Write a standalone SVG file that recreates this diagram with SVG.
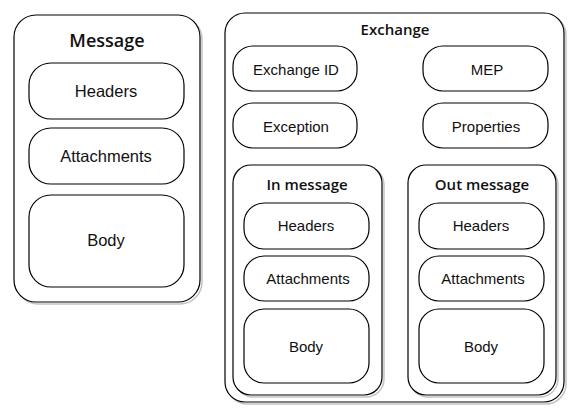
<svg xmlns="http://www.w3.org/2000/svg" width="578" height="419" viewBox="0 0 578 419">
<style>
.box{fill:#fff;stroke:#000;stroke-width:1.2}
.sh{fill:none;stroke:#c4c4c4;stroke-width:1.5}
.lbl{font-family:"Liberation Sans",Arial,sans-serif;font-size:15px;fill:#111;text-anchor:middle;dominant-baseline:central}
.big{font-size:16.5px}
.ttl{font-family:"Open Sans","Noto Sans",sans-serif;font-weight:600;font-size:15px;fill:#111;text-anchor:middle;dominant-baseline:central}
</style>
<rect width="578" height="419" fill="#fff"/>
<g id="message">
<rect class="sh" x="16" y="17" width="186" height="287" rx="22"/>
<rect class="box" x="14" y="15" width="186" height="287" rx="22"/>
<text class="ttl" x="107" y="40" style="font-size:18px">Message</text>
</g>
<g id="msg-headers"><rect class="box" x="29" y="63" width="155" height="56" rx="22"/><text class="lbl big" x="106" y="91">Headers</text></g>
<g id="msg-attachments"><rect class="box" x="29" y="128" width="155" height="56" rx="22"/><text class="lbl big" x="106" y="156">Attachments</text></g>
<g id="msg-body"><rect class="box" x="29" y="195" width="155" height="92" rx="22"/><text class="lbl big" x="106" y="240">Body</text></g>

<g id="exchange">
<rect class="sh" x="227" y="15" width="339" height="389" rx="20"/>
<rect class="box" x="225" y="13" width="339" height="389" rx="20"/>
<text class="ttl" x="395" y="29">Exchange</text>
</g>
<g id="exchange-id"><rect class="box" x="233" y="46" width="124" height="45" rx="20"/><text class="lbl" x="296" y="69">Exchange ID</text></g>
<g id="mep"><rect class="box" x="423" y="46" width="125" height="45" rx="20"/><text class="lbl" x="487" y="69">MEP</text></g>
<g id="exception"><rect class="box" x="233" y="103" width="124" height="45" rx="20"/><text class="lbl" x="296" y="126">Exception</text></g>
<g id="properties"><rect class="box" x="423" y="103" width="125" height="45" rx="20"/><text class="lbl" x="486" y="126">Properties</text></g>

<g id="in-message">
<rect class="sh" x="235" y="167" width="149" height="230" rx="18"/>
<rect class="box" x="233" y="165" width="149" height="230" rx="18"/>
<text class="ttl" x="307" y="184">In message</text>
</g>
<g id="in-headers"><rect class="box" x="244" y="203" width="125" height="46" rx="20"/><text class="lbl" x="306" y="225">Headers</text></g>
<g id="in-attachments"><rect class="box" x="244" y="256" width="125" height="45" rx="20"/><text class="lbl" x="308" y="278">Attachments</text></g>
<g id="in-body"><rect class="box" x="244" y="309" width="125" height="74" rx="20"/><text class="lbl" x="306" y="346">Body</text></g>

<g id="out-message">
<rect class="sh" x="410" y="167" width="148" height="230" rx="18"/>
<rect class="box" x="408" y="165" width="148" height="230" rx="18"/>
<text class="ttl" x="482" y="184">Out message</text>
</g>
<g id="out-headers"><rect class="box" x="419" y="203" width="125" height="46" rx="20"/><text class="lbl" x="481" y="225">Headers</text></g>
<g id="out-attachments"><rect class="box" x="419" y="256" width="125" height="45" rx="20"/><text class="lbl" x="483" y="278">Attachments</text></g>
<g id="out-body"><rect class="box" x="419" y="309" width="125" height="74" rx="20"/><text class="lbl" x="481" y="346">Body</text></g>
<g id="connectors"/>
</svg>
